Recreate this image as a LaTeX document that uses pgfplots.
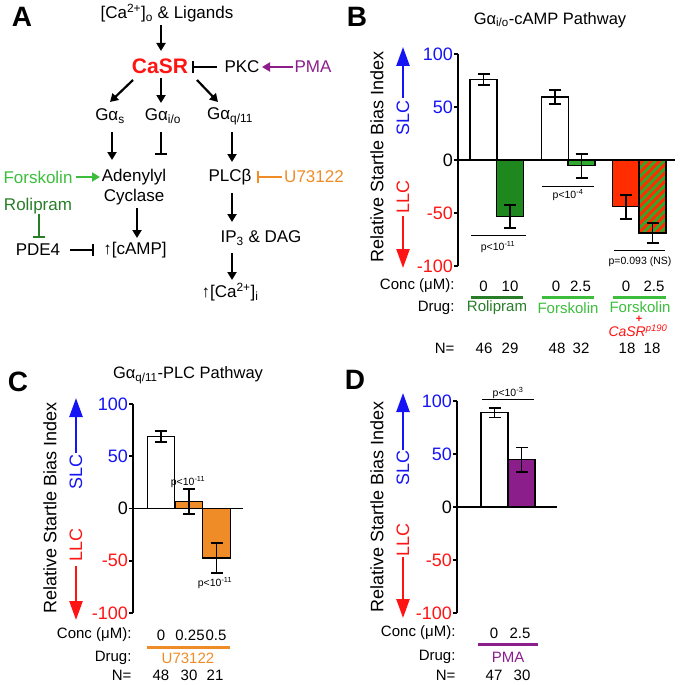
\documentclass[border=0pt]{standalone}
\usepackage{pgfplots}
\pgfplotsset{compat=1.18}
\usepackage{fontspec}
\setmainfont{Liberation Sans}
\usetikzlibrary{arrows.meta,patterns.meta}

\definecolor{myblue}{RGB}{20,20,245}
\definecolor{myred}{RGB}{255,20,20}
\definecolor{dkgreen}{RGB}{40,125,40}
\definecolor{ltgreen}{RGB}{60,190,60}
\definecolor{dkbar}{RGB}{30,135,30}
\definecolor{bargreen}{RGB}{45,170,45}
\definecolor{barred}{RGB}{255,45,0}
\definecolor{myorange}{RGB}{240,140,40}
\definecolor{mypurple}{RGB}{140,30,140}

\newcommand\fs[1]{\fontsize{#1}{#1}\selectfont}

\pgfplotsset{
  panel/.style={
    scale only axis, anchor=south west,
    axis y line=left, axis x line=none,
    axis line style={-, line width=1.6pt},
    every outer y axis line/.append style={-},
    ymin=-100, ymax=100,
    ytick={-100,-50,0,50,100},
    yticklabels={\textcolor{myred}{-100},\textcolor{myred}{-50},0,\textcolor{myblue}{50},\textcolor{myblue}{100}},
    tick align=outside, major tick length=4pt,
    ytick style={line width=1.6pt, black},
    yticklabel style={font=\fs{18}, inner sep=1pt},
    xtick=\empty,
    clip=false,
  },
  mybar/.style={ybar, bar width=27, draw=black, line width=1.3pt,
     error bars/y dir=both, error bars/y explicit,
     error bars/error bar style={line width=1.8pt, black},
     error bars/error mark options={rotate=90, mark size=6pt, line width=1.8pt, black}},
}

\begin{document}
\begin{tikzpicture}
\begin{scope}[x=1pt,y=-1pt]
\path (0,0) rectangle (680,685);
\end{scope}

% ---------- Panel B ----------
\begin{axis}[panel, at={(458pt,-266pt)}, width=217pt, height=212pt, xmin=458, xmax=675]
\draw[line width=1.6pt] (axis cs:458,0) -- (axis cs:675,0);
\addplot[mybar, fill=white] coordinates {(483.5,76) +- (0,5)};
\addplot[mybar, fill=dkbar] coordinates {(510,-53.5) +- (0,11)};
\addplot[mybar, fill=white] coordinates {(555,59.5) +- (0,6.5)};
\addplot[mybar, fill=bargreen] coordinates {(581.5,-5.5) +- (0,11.5)};
\addplot[mybar, fill=barred] coordinates {(626,-44) +- (0,11.3)};
\addplot[ybar, bar width=27, draw=none, fill=bargreen] coordinates {(652.5,-69)};
\addplot[mybar, pattern={Lines[angle=45,distance=6pt,line width=3pt]}, pattern color=barred] coordinates {(652.5,-69) +- (0,9.5)};
\draw[line width=0.9pt] (axis cs:471,-71) -- (axis cs:526,-71);
\draw[line width=0.9pt] (axis cs:542,-24.5) -- (axis cs:594,-24.5);
\draw[line width=0.9pt] (axis cs:614,-85) -- (axis cs:665,-85);
\end{axis}

% ---------- Panel C ----------
\begin{axis}[panel, at={(133pt,-613pt)}, width=110pt, height=209pt, xmin=133, xmax=243]
\draw[line width=1.6pt] (axis cs:133,0) -- (axis cs:243,0);
\addplot[mybar, bar width=27.5, fill=white] coordinates {(161,69) +- (0,5)};
\addplot[mybar, bar width=27.5, fill=myorange] coordinates {(189,6.5) +- (0,12)};
\addplot[mybar, bar width=27.5, fill=myorange] coordinates {(216.5,-47.5) +- (0,14.5)};
\end{axis}

% ---------- Panel D ----------
\begin{axis}[panel, at={(457pt,-613pt)}, width=100pt, height=212pt, xmin=457, xmax=557]
\draw[line width=1.6pt] (axis cs:457,0) -- (axis cs:557,0);
\addplot[mybar, fill=white] coordinates {(494.5,89) +- (0,4.5)};
\addplot[mybar, fill=mypurple] coordinates {(521.5,44.5) +- (0,11.7)};
\draw[line width=0.9pt] (axis cs:482,101.2) -- (axis cs:534,101.2);
\end{axis}

\begin{scope}[x=1pt,y=-1pt]
% ---------- Panel letters and titles ----------
\node[font=\fs{28}\bfseries] at (22,17) {A};
\node[font=\fs{28}\bfseries] at (357,17) {B};
\node[font=\fs{28}\bfseries] at (18,382) {C};
\node[font=\fs{28}\bfseries] at (355,380) {D};
\node[font=\fs{16.5}] at (550,20) {Gα\textsubscript{i/o}-cAMP Pathway};
\node[font=\fs{16.5}] at (188,375) {Gα\textsubscript{q/11}-PLC Pathway};

% ---------- y labels and SLC / LLC arrows ----------
\foreach \lx/\ax/\yc/\st/\se/\ss/\sl/\le/\lt in {377/403/157/47/98/118/197/216/268, 50/76/508/398/453/472/545/566/620, 377/403/507/393/450/468/540/557/618}{
  \node[font=\fs{18}, rotate=90] at (\lx,\yc) {Relative Startle Bias Index};
  \node[font=\fs{18}, rotate=90, text=myblue] at (\ax,\ss) {SLC};
  \node[font=\fs{18}, rotate=90, text=myred] at (\ax,\sl) {LLC};
  \draw[myblue, line width=2.4pt, -{Triangle[length=19pt,width=13pt]}] (\ax,\se) -- (\ax,\st);
  \draw[myred, line width=2.4pt, -{Triangle[length=19pt,width=13pt]}] (\ax,\le) -- (\ax,\lt);
}

% ---------- Panel B annotations ----------
\node[font=\fs{10.5}] at (498,247) {p<10\textsuperscript{-11}};
\node[font=\fs{10.5}] at (568,195) {p<10\textsuperscript{-4}};
\node[font=\fs{10.5}] at (640,262) {p=0.093 (NS)};
\begin{scope}[font=\fs{15}]
\node[anchor=east] at (458,286) {Conc (μM):};
\node at (483.5,286) {0}; \node at (510,286) {10};
\node at (556,286) {0}; \node at (580.5,286) {2.5};
\node at (626,286) {0}; \node at (654,286) {2.5};
\draw[dkgreen, line width=3pt] (471,297) -- (523,297);
\draw[ltgreen, line width=3pt] (542,297) -- (594,297);
\draw[ltgreen, line width=3pt] (613,297) -- (666,297);
\node[anchor=east] at (458,308) {Drug:};
\node[text=dkgreen] at (497,308) {Rolipram};
\node[text=ltgreen] at (568,308) {Forskolin};
\node[text=ltgreen, inner sep=1pt] at (640,307) {Forskolin};
\node[text=myred, font=\bfseries\fs{11}, inner sep=0pt] at (639,319.5) {+};
\node[text=myred, inner sep=0pt, font=\fs{14}] at (638,330.5) {\textit{CaSR}\textsuperscript{\fs{9.5}\itshape p190}};
\node[anchor=east] at (458,348) {N=};
\node at (484,348) {46}; \node at (510,348) {29};
\node at (557,348) {48}; \node at (581,348) {32};
\node at (627,348) {18}; \node at (652,348) {18};
\end{scope}

% ---------- Panel C annotations ----------
\node[font=\fs{10.5}] at (188,482) {p<10\textsuperscript{-11}};
\node[font=\fs{10.5}] at (215,583) {p<10\textsuperscript{-11}};
\begin{scope}[font=\fs{15}]
\node[anchor=east] at (135,635) {Conc (μM):};
\node at (161,635) {0}; \node at (190,635) {0.25}; \node at (216,635) {0.5};
\draw[myorange, line width=3pt] (147,647) -- (230,647);
\node[anchor=east] at (135,658) {Drug:};
\node[text=myorange] at (188,658) {U73122};
\node[anchor=east] at (135,675) {N=};
\node at (161,675) {48}; \node at (189,675) {30}; \node at (215,675) {21};
\end{scope}

% ---------- Panel D annotations ----------
\node[font=\fs{10.5}] at (508,393) {p<10\textsuperscript{-3}};
\begin{scope}[font=\fs{15}]
\node[anchor=east] at (459,633) {Conc (μM):};
\node at (494,633) {0}; \node at (520,633) {2.5};
\draw[mypurple, line width=3pt] (478,644) -- (538,644);
\node[anchor=east] at (459,657) {Drug:};
\node[text=mypurple] at (508,657) {PMA};
\node[anchor=east] at (459,675) {N=};
\node at (494,675) {47}; \node at (522,675) {30};
\end{scope}

% ---------- Panel A diagram ----------
\begin{scope}[font=\fs{17}, line width=2.2pt, >={Triangle[length=8pt,width=9pt]}]
\node at (167,13) {[Ca\textsuperscript{2+}]\textsubscript{o} \& Ligands};
\draw[->] (161,25) -- (161,51);
\node[text=myred, font=\fs{21}\bfseries] at (160,66) {CaSR};
\draw[-{Bar[width=12pt]}] (217,67) -- (192,67);
\node at (242,67) {PKC};
\draw[->, mypurple] (293,67) -- (262,67);
\node[text=mypurple] at (313,67) {PMA};
\draw[->] (133,80) -- (110,102);
\draw[->] (161,78) -- (161,103);
\draw[->] (197,80) -- (218,102);
\node at (110,116) {Gα\textsubscript{s}};
\node at (163,116) {Gα\textsubscript{i/o}};
\node at (230,116) {Gα\textsubscript{q/11}};
\draw[->] (112,132) -- (112,160);
\draw[-{Bar[width=12pt]}] (161,132) -- (161,155);
\draw[->] (232,132) -- (232,162);
\node[text=ltgreen] at (38,177) {Forskolin};
\draw[->, ltgreen] (76,177) -- (100,177);
\node at (134,177) {Adenylyl};
\node at (134,197) {Cyclase};
\node at (230,177) {PLCβ};
\draw[-{Bar[width=12pt]}, myorange] (282,177) -- (257,177);
\node[text=myorange] at (314,177) {U73122};
\node[text=dkgreen] at (38,206) {Rolipram};
\draw[-{Bar[width=12pt]}, dkgreen] (39,214) -- (39,238);
\node at (38,250) {PDE4};
\draw[-{Bar[width=12pt]}] (70,250) -- (94,250);
\node at (135,250) {↑[cAMP]};
\draw[->] (137,208) -- (137,238);
\draw[->] (232,193) -- (232,222);
\node at (261,238) {IP\textsubscript{3} \& DAG};
\draw[->] (232,253) -- (232,280);
\node at (230,292) {↑[Ca\textsuperscript{2+}]\textsubscript{i}};
\end{scope}
\end{scope}
\end{tikzpicture}
\end{document}
